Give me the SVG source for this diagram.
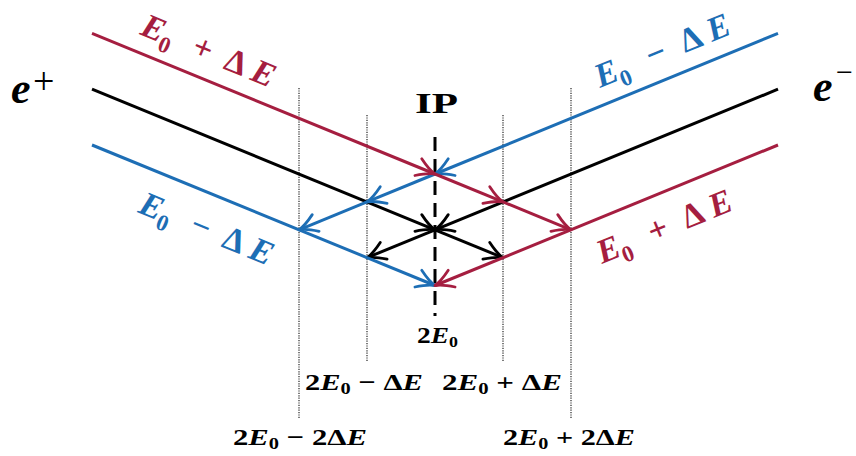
<svg xmlns="http://www.w3.org/2000/svg" width="856" height="456" viewBox="0 0 856 456">
<style>
.r{stroke:#A51E40;}
.b{stroke:#1D6EB5;}
.k{stroke:#000;}
.ln{fill:none;stroke-width:3;stroke-linecap:butt;}
.vd{fill:none;stroke:#444;stroke-width:1.4;stroke-dasharray:1.2 1.2;}
.ip{fill:none;stroke:#000;stroke-width:3;stroke-dasharray:14 8;}
.m{font-family:"Liberation Serif","Times New Roman",serif;font-weight:bold;}
.it{font-style:italic;}
.tr{fill:#A51E40;}
.tb{fill:#1D6EB5;}
.tk{fill:#000;}
</style>
<defs>
<marker id="ar" markerUnits="userSpaceOnUse" markerWidth="26" markerHeight="26" viewBox="-22 -13 26 26" refX="0" refY="0" orient="auto" overflow="visible">
<path d="M-18,-9 Q-7,-1.5 0,0 Q-7,1.5 -18,9" fill="none" stroke="#A51E40" stroke-width="2.8" stroke-linecap="round" stroke-linejoin="round"/>
</marker>
<marker id="ab" markerUnits="userSpaceOnUse" markerWidth="26" markerHeight="26" viewBox="-22 -13 26 26" refX="0" refY="0" orient="auto" overflow="visible">
<path d="M-18,-9 Q-7,-1.5 0,0 Q-7,1.5 -18,9" fill="none" stroke="#1D6EB5" stroke-width="2.8" stroke-linecap="round" stroke-linejoin="round"/>
</marker>
<marker id="ak" markerUnits="userSpaceOnUse" markerWidth="26" markerHeight="26" viewBox="-22 -13 26 26" refX="0" refY="0" orient="auto" overflow="visible">
<path d="M-18,-9 Q-7,-1.5 0,0 Q-7,1.5 -18,9" fill="none" stroke="#000" stroke-width="2.8" stroke-linecap="round" stroke-linejoin="round"/>
</marker>
</defs>

<g id="guides">
<line class="vd" x1="299" y1="88" x2="299" y2="419"/>
<line class="vd" x1="367" y1="115" x2="367" y2="362"/>
<line class="vd" x1="503" y1="115" x2="503" y2="362"/>
<line class="vd" x1="571" y1="88" x2="571" y2="419"/>
<line class="ip" x1="435" y1="137" x2="435" y2="316"/>
</g>

<g id="connectors">
<line class="ln k" x1="92" y1="89.2" x2="435" y2="229.8" marker-end="url(#ak)"/>
<line class="ln k" x1="778" y1="89.2" x2="435" y2="229.8" marker-end="url(#ak)"/>
<line class="ln k" x1="435" y1="229.8" x2="367" y2="257.7" marker-end="url(#ak)"/>
<line class="ln k" x1="435" y1="229.8" x2="503" y2="257.7" marker-end="url(#ak)"/>
<line class="ln b" x1="92" y1="145" x2="435" y2="285.5" marker-end="url(#ab)"/>
<line class="ln r" x1="778" y1="145" x2="435" y2="285.5" marker-end="url(#ar)"/>
<line class="ln b" x1="778" y1="33.4" x2="435" y2="174" marker-end="url(#ab)"/>
<line class="ln b" x1="435" y1="174" x2="367" y2="201.9" marker-end="url(#ab)"/>
<line class="ln b" x1="367" y1="201.9" x2="299" y2="229.8" marker-end="url(#ab)"/>
<line class="ln r" x1="92" y1="33.4" x2="435" y2="174" marker-end="url(#ar)"/>
<line class="ln r" x1="435" y1="174" x2="503" y2="201.9" marker-end="url(#ar)"/>
<line class="ln r" x1="503" y1="201.9" x2="571" y2="229.8" marker-end="url(#ar)"/>
</g>

<g id="label-eplus">
<text class="m tk" x="11" y="103" font-size="44"><tspan class="it">e</tspan></text>
<text class="tk" x="33" y="94" font-size="38" font-family="Liberation Serif, serif">+</text>
</g>
<g id="label-eminus">
<text class="m tk" x="813" y="101" font-size="44"><tspan class="it">e</tspan></text>
<text class="tk" x="836" y="82" font-size="30" font-family="Liberation Serif, serif">−</text>
</g>
<g id="label-ip">
<text class="m tk" x="415" y="113" font-size="30" textLength="43" lengthAdjust="spacingAndGlyphs">IP</text>
</g>

<g id="label-red-left" transform="translate(139,34) rotate(22.3)">
<text class="m tr" font-size="34"><tspan class="it" x="0" y="0">E</tspan><tspan x="22" y="8" font-size="23">0</tspan><tspan x="55" y="0">+</tspan><tspan x="90" y="0">Δ</tspan><tspan class="it" x="119" y="0">E</tspan></text>
</g>
<g id="label-blue-left" transform="translate(137,212) rotate(22.3)">
<text class="m tb" font-size="34"><tspan class="it" x="0" y="0">E</tspan><tspan x="22" y="8" font-size="23">0</tspan><tspan x="55" y="0">−</tspan><tspan x="90" y="0">Δ</tspan><tspan class="it" x="119" y="0">E</tspan></text>
</g>
<g id="label-blue-right" transform="translate(600,88) rotate(-22.3)">
<text class="m tb" font-size="34"><tspan class="it" x="0" y="0">E</tspan><tspan x="22" y="8" font-size="23">0</tspan><tspan x="55" y="0">−</tspan><tspan x="92" y="0">Δ</tspan><tspan class="it" x="121" y="0">E</tspan></text>
</g>
<g id="label-red-right" transform="translate(602,264) rotate(-22.3)">
<text class="m tr" font-size="34"><tspan class="it" x="0" y="0">E</tspan><tspan x="22" y="8" font-size="23">0</tspan><tspan x="55" y="0">+</tspan><tspan x="92" y="0">Δ</tspan><tspan class="it" x="121" y="0">E</tspan></text>
</g>

<g id="label-2E0">
<text class="m tk" x="417" y="343" font-size="23" textLength="41" lengthAdjust="spacingAndGlyphs">2<tspan class="it">E</tspan><tspan font-size="15" dy="4">0</tspan></text>
</g>
<g id="label-2E0-minus-dE">
<text class="m tk" x="305" y="390" font-size="24" textLength="118" lengthAdjust="spacingAndGlyphs">2<tspan class="it">E</tspan><tspan font-size="16" dy="4">0</tspan><tspan dy="-4"> − Δ</tspan><tspan class="it">E</tspan></text>
</g>
<g id="label-2E0-plus-dE">
<text class="m tk" x="442" y="390" font-size="24" textLength="120" lengthAdjust="spacingAndGlyphs">2<tspan class="it">E</tspan><tspan font-size="16" dy="4">0</tspan><tspan dy="-4"> + Δ</tspan><tspan class="it">E</tspan></text>
</g>
<g id="label-2E0-minus-2dE">
<text class="m tk" x="233" y="445" font-size="24" textLength="134" lengthAdjust="spacingAndGlyphs">2<tspan class="it">E</tspan><tspan font-size="16" dy="4">0</tspan><tspan dy="-4"> − 2Δ</tspan><tspan class="it">E</tspan></text>
</g>
<g id="label-2E0-plus-2dE">
<text class="m tk" x="503" y="445" font-size="24" textLength="132" lengthAdjust="spacingAndGlyphs">2<tspan class="it">E</tspan><tspan font-size="16" dy="4">0</tspan><tspan dy="-4"> + 2Δ</tspan><tspan class="it">E</tspan></text>
</g>
</svg>
